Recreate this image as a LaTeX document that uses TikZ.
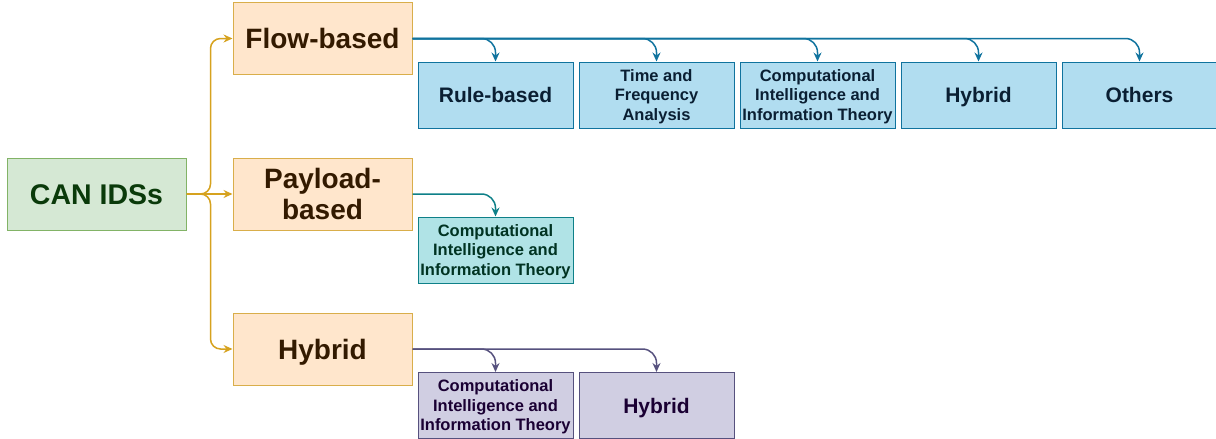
\documentclass[tikz,border=0pt]{standalone}
\usepackage{fontspec}
\setmainfont{Liberation Sans}
\usepackage{tikz}
\usetikzlibrary{arrows.meta,positioning}
\usepackage{xcolor}

\definecolor{rootfill}{HTML}{D5E8D4}
\definecolor{rootline}{HTML}{82B366}
\definecolor{roottext}{HTML}{0A3A0A}
\definecolor{catfill}{HTML}{FFE6CC}
\definecolor{catline}{HTML}{D9AE4A}
\definecolor{catarrow}{HTML}{D6A21E}
\definecolor{cattext}{HTML}{331A00}
\definecolor{flowfill}{HTML}{B1DDF0}
\definecolor{flowline}{HTML}{10739E}
\definecolor{flowtext}{HTML}{0A1F33}
\definecolor{payfill}{HTML}{B0E3E6}
\definecolor{payline}{HTML}{0E8088}
\definecolor{paytext}{HTML}{003322}
\definecolor{hybfill}{HTML}{D0CEE2}
\definecolor{hybline}{HTML}{56517E}
\definecolor{hybtext}{HTML}{1A0033}

\tikzset{
    rootbox/.style={draw=rootline, fill=rootfill, text=roottext, line width=1pt,
        minimum width=179pt, minimum height=72pt, inner sep=0pt,
        text height=22pt, text depth=2pt,
        font=\fontsize{28.5}{32}\selectfont\bfseries},
    catbox/.style={draw=catline, fill=catfill, text=cattext, line width=1pt,
        minimum width=179pt, minimum height=72pt, inner sep=0pt, align=center,
        font=\fontsize{28}{31}\selectfont\bfseries},
    oneline/.style={text height=22pt, text depth=2pt},
    leafbox/.style={line width=1pt, minimum width=155pt, minimum height=66pt,
        inner sep=0pt, align=center},
    bigleaf/.style={text height=17pt, text depth=2pt,
        font=\fontsize{21}{24}\selectfont\bfseries},
    smallleaf/.style={text depth=-1.5pt,
        font=\fontsize{16.5}{19.5}\selectfont\bfseries},
    flowleaf/.style={leafbox, draw=flowline, fill=flowfill, text=flowtext},
    payleaf/.style={leafbox, draw=payline, fill=payfill, text=paytext},
    hybleaf/.style={leafbox, draw=hybline, fill=hybfill, text=hybtext},
    link/.style={line width=1.5pt, rounded corners=14pt,
        -{Stealth[length=9pt,width=8pt,inset=3pt]}}
}

\begin{document}
\begin{tikzpicture}[x=1pt, y=-1pt]
    \useasboundingbox (0,0) rectangle (1216,439);

    % Root
    \node[rootbox] (can) at (96.5,194) {CAN IDSs};

    % Categories
    \node[catbox, oneline] (flow) at (322.5,38.5) {Flow-based};
    \node[catbox, text depth=-2pt] (pay) at (322.5,194) {Payload-\\based};
    \node[catbox, oneline] (hyb) at (322.5,349) {Hybrid};

    % Flow-based children
    \node[flowleaf, bigleaf] (rule) at (495.5,95) {Rule-based};
    \node[flowleaf, smallleaf, right=5pt of rule] (timefreq) {Time and\\Frequency\\Analysis};
    \node[flowleaf, smallleaf, right=5pt of timefreq] (flowci) {Computational\\Intelligence and\\Information Theory};
    \node[flowleaf, bigleaf, right=5pt of flowci] (flowhyb) {Hybrid};
    \node[flowleaf, bigleaf, right=5pt of flowhyb] (others) {Others};

    % Payload-based children
    \node[payleaf, smallleaf] (payci) at (495.5,250) {Computational\\Intelligence and\\Information Theory};

    % Hybrid children
    \node[hybleaf, smallleaf] (hybci) at (495.5,405.5) {Computational\\Intelligence and\\Information Theory};
    \node[hybleaf, bigleaf, right=5pt of hybci] (hybhyb) {Hybrid};

    % Root to categories
    \draw[link, catarrow, rounded corners=10pt] (can.east) -- ++(24,0) |- (flow.west);
    \draw[link, catarrow] (can.east) -- (pay.west);
    \draw[link, catarrow, rounded corners=10pt] (can.east) -- ++(24,0) |- (hyb.west);

    % Categories to children
    \foreach \leaf in {rule,timefreq,flowci,flowhyb,others}
        \draw[link, flowline] (flow.east) -| (\leaf.north);
    \draw[link, payline] (pay.east) -| (payci.north);
    \draw[link, hybline] (hyb.east) -| (hybci.north);
    \draw[link, hybline] (hyb.east) -| (hybhyb.north);
\end{tikzpicture}
\end{document}
